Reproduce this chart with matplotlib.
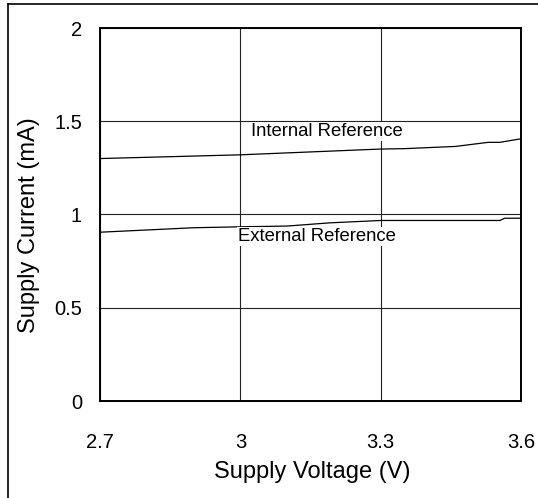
import matplotlib
matplotlib.use("Agg")
import matplotlib.pyplot as plt
from matplotlib.lines import Line2D

plt.rcParams['font.family'] = ['Liberation Sans', 'DejaVu Sans']

# Data
internal_v = [2.70, 3.00, 3.30, 3.35, 3.46, 3.53, 3.555, 3.60]
internal_i = [1.300, 1.320, 1.351, 1.353, 1.365, 1.387, 1.387, 1.406]
external_v = [2.70, 2.90, 3.00, 3.10, 3.19, 3.30, 3.555, 3.565, 3.60]
external_i = [0.905, 0.929, 0.934, 0.938, 0.955, 0.968, 0.968, 0.980, 0.980]

x_ticks = [2.7, 3.0, 3.3, 3.6]
x_ticklabels = ["2.7", "3", "3.3", "3.6"]
y_ticks = [0, 0.5, 1, 1.5, 2]
y_ticklabels = ["0", "0.5", "1", "1.5", "2"]

W, H = 538, 498
fig = plt.figure(figsize=(W / 100, H / 100), dpi=100)
ax = fig.add_axes([100 / W, 1 - 401 / H, (521 - 100) / W, (401 - 28) / H])

ax.plot(internal_v, internal_i, color='black', lw=0.9, zorder=3)
ax.plot(external_v, external_i, color='black', lw=0.9, zorder=3)

ax.set_xlim(2.7, 3.6)
ax.set_ylim(0, 2)
ax.set_xticks(x_ticks)
ax.set_xticklabels(x_ticklabels)
ax.set_yticks(y_ticks)
ax.set_yticklabels(y_ticklabels)
ax.tick_params(axis='x', length=0, pad=23, labelsize=14.5)
ax.tick_params(axis='y', length=0, pad=13, labelsize=14.5)
ax.grid(True, color='#222222', lw=0.8, zorder=1)
ax.set_axisbelow(True)
for s in ax.spines.values():
    s.set_linewidth(1.4)
    s.set_color('black')

ax.set_xlabel("Supply Voltage (V)", fontsize=17, va='center', ha='center')
ax.xaxis.set_label_coords(0.5036, -0.190)
ax.set_ylabel("Supply Current (mA)", fontsize=17, va='center', ha='center')
ax.yaxis.set_label_coords(-0.169, 0.472)

ax.text(3.185, 1.445, "Internal Reference", fontsize=13.3, ha='center', va='center',
        bbox=dict(facecolor='white', edgecolor='none', pad=1), zorder=4)
ax.text(3.164, 0.882, "External Reference", fontsize=13.3, ha='center', va='center',
        bbox=dict(facecolor='white', edgecolor='none', pad=1), zorder=4)

# outer frame (left and top edges visible)
fig.add_artist(Line2D([7.5 / W, 7.5 / W], [0, 1 - 4 / H], transform=fig.transFigure, color='black', lw=1.2))
fig.add_artist(Line2D([7.5 / W, 1], [1 - 4 / H, 1 - 4 / H], transform=fig.transFigure, color='black', lw=1.2))

fig.savefig("out.png", dpi=100)
